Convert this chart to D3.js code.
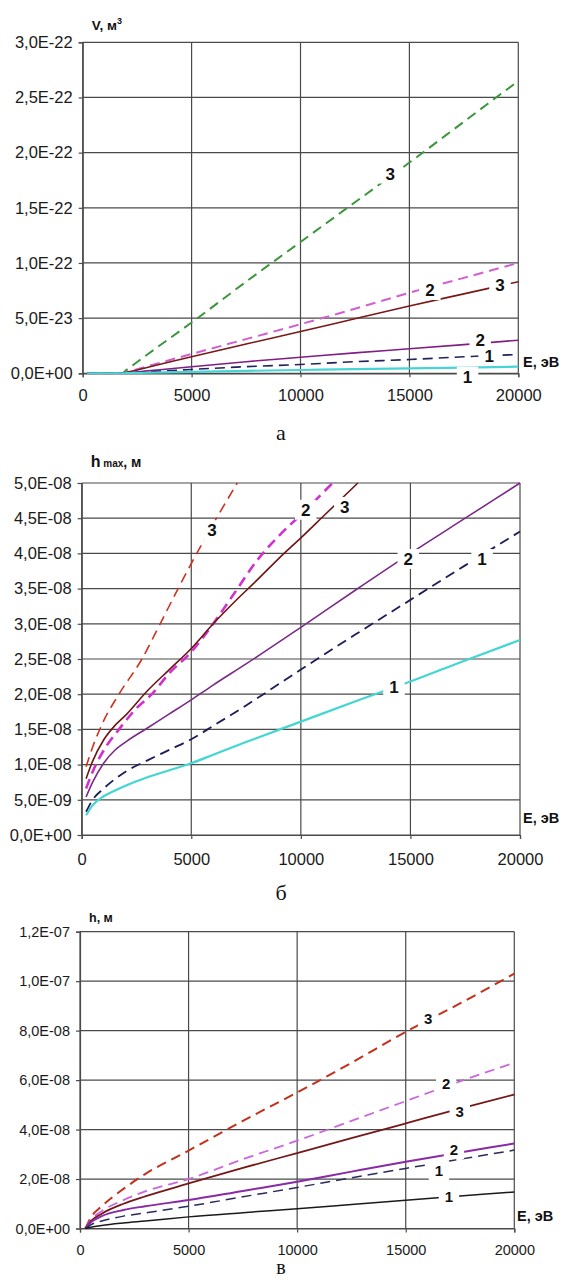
<!DOCTYPE html>
<html>
<head>
<meta charset="utf-8">
<script src="https://cdn.jsdelivr.net/npm/d3@7"></script>
<style>
  body { margin: 0; background: #fff; }
  svg text { font-family: "Liberation Sans", Arial, sans-serif; }
</style>
</head>
<body>
<svg id="fig" width="564" height="1281"></svg>
<script>
// ---------- shared energy axis ----------
const energyTicks = [0, 5000, 10000, 15000, 20000];

// ---------- panel а : volume V, m^3 ----------
const volTicks = [0, 5e-23, 1e-22, 1.5e-22, 2e-22, 2.5e-22, 3e-22];
const volTickLabels = ["0,0E+00", "5,0E-23", "1,0E-22", "1,5E-22", "2,0E-22", "2,5E-22", "3,0E-22"];
const volE = [200, 1000, 1800, 2000, 3000, 5000, 7500, 10000, 12500, 15000, 17500, 20000];
const volGreen3   = [0, 0, 0, 0.29e-23, 1.75e-23, 4.6e-23, 8.3e-23, 1.19e-22, 1.55e-22, 1.91e-22, 2.28e-22, 2.65e-22];
const volMagenta2 = [0, 0, 0, 0.1e-23, 0.65e-23, 1.75e-23, 3.1e-23, 4.45e-23, 5.85e-23, 7.3e-23, 8.65e-23, 1.0e-22];
const volMaroon3  = [0, 0, 0, 0.08e-23, 0.55e-23, 1.5e-23, 2.65e-23, 3.78e-23, 4.95e-23, 6.1e-23, 7.2e-23, 8.3e-23];
const volPurple2  = [0, 0, 0, 0.03e-23, 0.22e-23, 0.6e-23, 1.05e-23, 1.45e-23, 1.85e-23, 2.22e-23, 2.6e-23, 3.0e-23];
const volNavy1    = [0, 0, 0, 0.02e-23, 0.13e-23, 0.35e-23, 0.6e-23, 0.8e-23, 1.05e-23, 1.25e-23, 1.5e-23, 1.7e-23];
const volCyan1    = [0, 0, 0, 0.01e-23, 0.05e-23, 0.13e-23, 0.22e-23, 0.3e-23, 0.38e-23, 0.45e-23, 0.52e-23, 0.6e-23];
const volLabels = [
  { E: 14120, v: 1.81e-22, t: "3" },
  { E: 15940, v: 0.755e-22, t: "2" },
  { E: 19160, v: 0.80e-22, t: "3" },
  { E: 18250, v: 0.302e-22, t: "2" },
  { E: 18660, v: 0.157e-22, t: "1" },
  { E: 17670, v: -0.03e-22, t: "1" }
];

// ---------- panel б : maximum depth h_max, m ----------
const hmaxTicks = [0, 5e-9, 1e-8, 1.5e-8, 2e-8, 2.5e-8, 3e-8, 3.5e-8, 4e-8, 4.5e-8, 5e-8];
const hmaxTickLabels = ["0,0E+00", "5,0E-09", "1,0E-08", "1,5E-08", "2,0E-08", "2,5E-08", "3,0E-08", "3,5E-08", "4,0E-08", "4,5E-08", "5,0E-08"];
const hmaxRedE     = [200, 500, 1000, 1700, 2750, 3580, 4400, 5250, 6150, 7100];
const hmaxRed3     = [0.97e-8, 1.25e-8, 1.62e-8, 2.0e-8, 2.5e-8, 3.0e-8, 3.5e-8, 4.0e-8, 4.5e-8, 5.0e-8];
const hmaxMagentaE = [200, 500, 1000, 1700, 2500, 3200, 4000, 5000, 6000, 7000, 8000, 9000, 10000, 11450];
const hmaxMagenta2 = [0.66e-8, 0.9e-8, 1.2e-8, 1.5e-8, 1.8e-8, 2.0e-8, 2.3e-8, 2.6e-8, 3.0e-8, 3.45e-8, 3.9e-8, 4.25e-8, 4.55e-8, 5.0e-8];
const hmaxMaroonE  = [200, 500, 1000, 1500, 2000, 3000, 4000, 5000, 6000, 7000, 8000, 9000, 10000, 11000, 12600];
const hmaxMaroon3  = [0.8e-8, 1.05e-8, 1.35e-8, 1.55e-8, 1.7e-8, 2.05e-8, 2.35e-8, 2.65e-8, 3.0e-8, 3.32e-8, 3.62e-8, 3.93e-8, 4.22e-8, 4.52e-8, 5.0e-8];
const hmaxE        = [200, 500, 1000, 1500, 2000, 3000, 4000, 5000, 6000, 7500, 10000, 12500, 15000, 17500, 20000];
const hmaxPurple2  = [0.54e-8, 0.75e-8, 1.02e-8, 1.2e-8, 1.32e-8, 1.52e-8, 1.72e-8, 1.92e-8, 2.13e-8, 2.43e-8, 2.95e-8, 3.48e-8, 4.0e-8, 4.5e-8, 5.0e-8];
const hmaxNavy1    = [0.33e-8, 0.5e-8, 0.66e-8, 0.79e-8, 0.9e-8, 1.06e-8, 1.21e-8, 1.36e-8, 1.55e-8, 1.84e-8, 2.35e-8, 2.85e-8, 3.34e-8, 3.83e-8, 4.31e-8];
const hmaxCyan1    = [0.28e-8, 0.42e-8, 0.55e-8, 0.63e-8, 0.7e-8, 0.82e-8, 0.92e-8, 1.02e-8, 1.14e-8, 1.32e-8, 1.61e-8, 1.9e-8, 2.18e-8, 2.48e-8, 2.77e-8];
const hmaxLabels = [
  { E: 5950, v: 4.33e-8, t: "3" },
  { E: 10220, v: 4.62e-8, t: "2" },
  { E: 12000, v: 4.66e-8, t: "3" },
  { E: 14900, v: 3.92e-8, t: "2" },
  { E: 18270, v: 3.92e-8, t: "1" },
  { E: 14250, v: 2.11e-8, t: "1" }
];

// ---------- panel в : depth h, m ----------
const hTicks = [0, 2e-8, 4e-8, 6e-8, 8e-8, 1e-7, 1.2e-7];
const hTickLabels = ["0,0E+00", "2,0E-08", "4,0E-08", "6,0E-08", "8,0E-08", "1,0E-07", "1,2E-07"];
const hE        = [250, 500, 1000, 2000, 3000, 5000, 7500, 10000, 12500, 15000, 17500, 20000];
const hRed3     = [0, 0.45e-8, 0.9e-8, 1.6e-8, 2.2e-8, 3.15e-8, 4.35e-8, 5.5e-8, 6.7e-8, 7.95e-8, 9.1e-8, 10.3e-8];
const hMagenta2 = [0, 0.35e-8, 0.7e-8, 1.15e-8, 1.5e-8, 2.0e-8, 2.8e-8, 3.55e-8, 4.35e-8, 5.15e-8, 5.95e-8, 6.7e-8];
const hMaroon3  = [0, 0.3e-8, 0.6e-8, 1.0e-8, 1.3e-8, 1.82e-8, 2.45e-8, 3.05e-8, 3.65e-8, 4.25e-8, 4.85e-8, 5.42e-8];
const hPurple2  = [0, 0.25e-8, 0.5e-8, 0.75e-8, 0.9e-8, 1.15e-8, 1.52e-8, 1.89e-8, 2.3e-8, 2.7e-8, 3.07e-8, 3.44e-8];
const hNavy1    = [0, 0.15e-8, 0.3e-8, 0.5e-8, 0.63e-8, 0.9e-8, 1.28e-8, 1.66e-8, 2.05e-8, 2.43e-8, 2.8e-8, 3.17e-8];
const hBlack1   = [0, 0.05e-8, 0.12e-8, 0.22e-8, 0.3e-8, 0.47e-8, 0.64e-8, 0.8e-8, 0.97e-8, 1.14e-8, 1.31e-8, 1.48e-8];
const hLabels = [
  { E: 16030, v: 8.49e-8, t: "3" },
  { E: 16860, v: 5.86e-8, t: "2" },
  { E: 17490, v: 4.72e-8, t: "3" },
  { E: 17220, v: 3.21e-8, t: "2" },
  { E: 16530, v: 2.36e-8, t: "1" },
  { E: 16990, v: 1.28e-8, t: "1" }
];

const zip = (xs, ys) => xs.map((e, i) => [e, ys[i]]);
const DASH = "10,6";

const panels = [
  {
    id: "a", left: 82.7, right: 518.3, top: 42.3, bottom: 373.3, yMax: 3e-22,
    yTicks: volTicks, yLabels: volTickLabels, tickFont: 16.5, labelFont: 17,
    xPad: 12, title: [{ t: "V, м", size: 13.5 }, { t: "3", size: 9, dy: -6 }], titleY: 30,
    eY: 367, eX: 523, caption: "а", capY: 440, capSize: 22,
    series: [
      { d: zip(volE, volGreen3),   c: "#3c963c", w: 2,   dash: DASH },
      { d: zip(volE, volMagenta2), c: "#d060d0", w: 2,   dash: DASH },
      { d: zip(volE, volMaroon3),  c: "#7a1818", w: 1.6, dash: null },
      { d: zip(volE, volPurple2),  c: "#7f1f86", w: 1.6, dash: null },
      { d: zip(volE, volNavy1),    c: "#22225e", w: 1.6, dash: DASH },
      { d: zip(volE, volCyan1),    c: "#48d4d4", w: 2.2, dash: null }
    ],
    labels: volLabels
  },
  {
    id: "b", left: 81.7, right: 520, top: 483, bottom: 835, yMax: 5e-8,
    yTicks: hmaxTicks, yLabels: hmaxTickLabels, tickFont: 16.5, labelFont: 17,
    xPad: 14, title: [{ t: "h", size: 16 }, { t: " max", size: 10 }, { t: ", м", size: 14 }], titleY: 467,
    eY: 823, eX: 523, caption: "б", capY: 900, capSize: 22,
    series: [
      { d: zip(hmaxRedE, hmaxRed3),         c: "#cc3320", w: 1.6, dash: DASH },
      { d: zip(hmaxMagentaE, hmaxMagenta2), c: "#d030d0", w: 2.6, dash: DASH },
      { d: zip(hmaxMaroonE, hmaxMaroon3),   c: "#6e1414", w: 1.6, dash: null },
      { d: zip(hmaxE, hmaxPurple2),         c: "#7a2a88", w: 1.6, dash: null },
      { d: zip(hmaxE, hmaxNavy1),           c: "#1c1c58", w: 1.8, dash: DASH },
      { d: zip(hmaxE, hmaxCyan1),           c: "#44d6d0", w: 2.2, dash: null }
    ],
    labels: hmaxLabels
  },
  {
    id: "c", left: 80, right: 514.3, top: 931.7, bottom: 1228.5, yMax: 1.2e-7,
    yTicks: hTicks, yLabels: hTickLabels, tickFont: 14.5, labelFont: 15,
    xPad: 12, title: [{ t: "h, м", size: 12.5 }], titleY: 922,
    eY: 1221, eX: 517, caption: "в", capY: 1274, capSize: 20,
    series: [
      { d: zip(hE, hRed3),     c: "#c4301c", w: 2,   dash: DASH },
      { d: zip(hE, hMagenta2), c: "#cc66dd", w: 1.8, dash: DASH },
      { d: zip(hE, hMaroon3),  c: "#761818", w: 1.8, dash: null },
      { d: zip(hE, hPurple2),  c: "#8a2aa6", w: 2,   dash: null },
      { d: zip(hE, hNavy1),    c: "#2a2a5c", w: 1.5, dash: DASH },
      { d: zip(hE, hBlack1),   c: "#1a1a1a", w: 1.5, dash: null }
    ],
    labels: hLabels
  }
];

const svg = d3.select("#fig");
const gridColor = "#4a4a4a";

panels.forEach(p => {
  const g = svg.append("g").attr("class", "panel-" + p.id);
  const x = d3.scaleLinear().domain([0, 20000]).range([p.left, p.right]);
  const y = d3.scaleLinear().domain([0, p.yMax]).range([p.bottom, p.top]);

  // grid
  g.append("g").selectAll("line").data(p.yTicks).join("line")
    .attr("x1", p.left).attr("x2", p.right)
    .attr("y1", d => y(d)).attr("y2", d => y(d))
    .attr("stroke", gridColor).attr("stroke-width", 1.2);
  g.append("g").selectAll("line").data(energyTicks).join("line")
    .attr("x1", d => x(d)).attr("x2", d => x(d))
    .attr("y1", p.top).attr("y2", p.bottom)
    .attr("stroke", gridColor).attr("stroke-width", 1.2);

  // axes
  const yAxis = d3.axisLeft(y).tickValues(p.yTicks)
    .tickFormat((d, i) => p.yLabels[i]).tickSize(4).tickPadding(6);
  const ya = g.append("g").attr("transform", `translate(${p.left},0)`).call(yAxis);
  const xAxis = d3.axisBottom(x).tickValues(energyTicks)
    .tickFormat(d => String(d)).tickSize(4).tickPadding(p.xPad);
  const xa = g.append("g").attr("transform", `translate(0,${p.bottom})`).call(xAxis);
  [ya, xa].forEach(a => {
    a.select(".domain").attr("stroke", gridColor).attr("stroke-width", 1.2);
    a.selectAll(".tick line").attr("stroke", gridColor).attr("stroke-width", 1.2);
    a.selectAll(".tick text").attr("fill", "#1a1a1a")
      .style("font-size", p.tickFont + "px")
      .style("font-family", '"Liberation Sans", Arial, sans-serif');
  });

  // curves, clipped to the plotting area
  const clipId = "clip-" + p.id;
  g.append("clipPath").attr("id", clipId).append("rect")
    .attr("x", p.left).attr("y", p.top - 1)
    .attr("width", p.right - p.left + 2).attr("height", p.bottom - p.top + 2);
  const line = d3.line().x(d => x(d[0])).y(d => y(d[1])).curve(d3.curveMonotoneX);
  const cg = g.append("g").attr("clip-path", `url(#${clipId})`);
  p.series.forEach(s => {
    cg.append("path").attr("d", line(s.d))
      .attr("fill", "none").attr("stroke", s.c).attr("stroke-width", s.w)
      .attr("stroke-dasharray", s.dash).attr("stroke-linejoin", "round");
  });

  // curve numbers with white boxes
  const lg = g.append("g");
  p.labels.forEach(l => {
    const cx = x(l.E), cy = y(l.v);
    const rect = lg.append("rect").attr("fill", "#fff");
    const t = lg.append("text").attr("x", cx).attr("y", cy)
      .attr("text-anchor", "middle").attr("dy", "0.36em")
      .style("font-size", p.labelFont + "px").style("font-weight", "bold")
      .attr("fill", "#111").text(l.t);
    const w = t.node().getComputedTextLength();
    rect.attr("x", cx - w / 2 - 6).attr("y", cy - 10).attr("width", w + 12).attr("height", 20);
  });

  // axis titles
  const tt = g.append("text").attr("x", p.left + 9).attr("y", p.titleY)
    .style("font-weight", "bold").attr("fill", "#111");
  p.title.forEach(part => {
    const ts = tt.append("tspan").style("font-size", part.size + "px").text(part.t);
    if (part.dy) ts.attr("dy", part.dy);
  });
  g.append("text").attr("x", p.eX).attr("y", p.eY)
    .style("font-size", "14.5px").style("font-weight", "bold").attr("fill", "#111")
    .text("E, эВ");

  // panel caption
  g.append("text").attr("x", 281).attr("y", p.capY).attr("text-anchor", "middle")
    .style("font-family", '"Liberation Serif", "Times New Roman", serif')
    .style("font-size", p.capSize + "px").attr("fill", "#111").text(p.caption);
});
</script>
</body>
</html>
